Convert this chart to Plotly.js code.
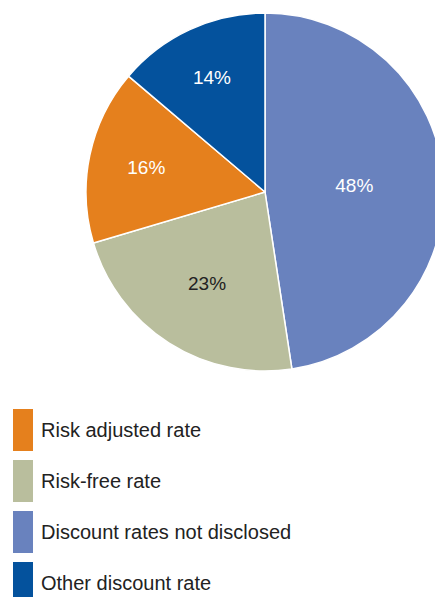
<!DOCTYPE html>
<html>
<head>
<meta charset="utf-8">
<script src="https://cdn.plot.ly/plotly-3.0.1.min.js"></script>
<style>
html,body{margin:0;padding:0;overflow:hidden;background:#fff;width:435px;height:597px;}
#chart{width:460px;height:597px;}
</style>
</head>
<body>
<div id="chart"></div>
<script>
// Data (slices in drawing order, clockwise from 12 o'clock)
const sliceLabels = ["Discount rates not disclosed", "Risk-free rate", "Risk adjusted rate", "Other discount rate"];
const sliceValues = [47.6, 22.8, 15.8, 13.8];
const sliceColors = ["#6982be", "#b9be9d", "#e5801d", "#04529d"];
const sliceTextColors = ["#ffffff", "#222222", "#ffffff", "#ffffff"];
// Legend order
const legendLabels = ["Risk adjusted rate", "Risk-free rate", "Discount rates not disclosed", "Other discount rate"];

const W = 460, H = 597;
const cx = 265, cy = 192, R = 179;

const trace = {
  type: "pie",
  labels: sliceLabels,
  values: sliceValues,
  sort: false,
  direction: "clockwise",
  rotation: 0,
  marker: {colors: sliceColors, line: {color: "#ffffff", width: 1.5}},
  textinfo: "percent",
  texttemplate: "%{percent:.0%}",
  textposition: "inside",
  insidetextorientation: "horizontal",
  textfont: {family: "Liberation Sans, Arial, sans-serif", size: 19, color: sliceTextColors},
  hoverinfo: "none",
  showlegend: false,
  domain: {x: [(cx - R) / W, (cx + R) / W], y: [1 - (cy + R) / H, 1 - (cy - R) / H]}
};

const shapes = [];
const annotations = [];
const legTop = 409, legStep = 51, boxH = 42, boxX0 = 13, boxX1 = 33;
legendLabels.forEach((lab, i) => {
  const color = sliceColors[sliceLabels.indexOf(lab)];
  const y0 = legTop + i * legStep;
  shapes.push({type: "rect", xref: "paper", yref: "paper",
    x0: boxX0 / W, x1: boxX1 / W, y0: 1 - y0 / H, y1: 1 - (y0 + boxH) / H,
    fillcolor: color, line: {width: 0}});
  annotations.push({xref: "paper", yref: "paper", x: 39 / W, y: 1 - (y0 + boxH / 2) / H,
    xanchor: "left", yanchor: "middle", showarrow: false, text: lab,
    font: {family: "Liberation Sans, Arial, sans-serif", size: 20, color: "#222222"}});
});

const layout = {
  width: W, height: H,
  margin: {l: 0, r: 0, t: 0, b: 0},
  paper_bgcolor: "#ffffff",
  showlegend: false,
  shapes: shapes,
  annotations: annotations
};

Plotly.newPlot("chart", [trace], layout, {displayModeBar: false, staticPlot: true});
</script>
</body>
</html>
